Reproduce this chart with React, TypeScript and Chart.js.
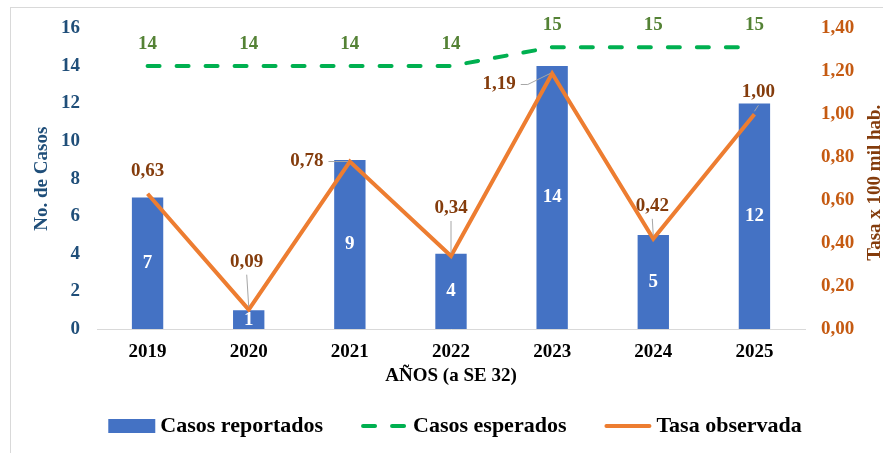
import React, { useEffect, useRef } from "react";
import { Chart, registerables } from "chart.js";

Chart.register(...registerables);

// ---- data ----
const years = ["2019", "2020", "2021", "2022", "2023", "2024", "2025"];
const casosReportados = [7, 1, 9, 4, 14, 5, 12];
const casosEsperados = [14, 14, 14, 14, 15, 15, 15];
const tasaObservada = [0.63, 0.09, 0.78, 0.34, 1.19, 0.42, 1.0];
const seriesNames = ["Casos reportados", "Casos esperados", "Tasa observada"];
const leftAxisTitle = "No. de Casos";
const rightAxisTitle = "Tasa x 100 mil hab.";
const xAxisTitle = "AÑOS (a SE 32)";
const leftMax = 16;
const leftStep = 2;
const rightMax = 1.4;
const rightStep = 0.2;

// ---- label placement (style only) ----
const tasaLabelOffsets: [number, number][] = [
  [0, -23],
  [-2, -48],
  [-43, 0],
  [0, -48],
  [-53, 11],
  [-1, -33],
  [4, -22],
];
const tasaLeader = [false, true, true, true, true, true, true];

const FONT = "'Liberation Serif', 'Times New Roman', serif";
const BLUE = "#4472C4";
const GREEN = "#00B050";
const ORANGE = "#ED7D31";
const GREEN_LABEL = "#548235";
const BROWN_LABEL = "#843C0C";
const RIGHT_TICK = "#C55A11";
const LEFT_TICK = "#1F4E79";

const fmtComma = (v: number) => v.toFixed(2).replace(".", ",");

const decorPlugin = {
  id: "decor",
  beforeDraw(chart: any) {
    const { ctx, width, height } = chart;
    ctx.save();
    ctx.fillStyle = "#ffffff";
    ctx.fillRect(0, 0, width, height);
    ctx.strokeStyle = "#D9D9D9";
    ctx.lineWidth = 1;
    ctx.strokeRect(10.5, 7.5, width + 20, height + 20);
    ctx.restore();
  },
  afterDatasetsDraw(chart: any) {
    const { ctx } = chart;
    ctx.save();
    ctx.font = `bold 19px ${FONT}`;
    ctx.textAlign = "center";
    ctx.textBaseline = "middle";

    // bar labels
    const barMeta = chart.getDatasetMeta(2);
    barMeta.data.forEach((el: any, i: number) => {
      ctx.fillStyle = "#ffffff";
      ctx.fillText(String(casosReportados[i]), el.x, (el.y + el.base) / 2);
    });

    // expected labels
    const expMeta = chart.getDatasetMeta(1);
    expMeta.data.forEach((el: any, i: number) => {
      ctx.fillStyle = GREEN_LABEL;
      ctx.fillText(String(casosEsperados[i]), el.x, el.y - 22);
    });

    // rate labels + leader lines
    const rateMeta = chart.getDatasetMeta(0);
    rateMeta.data.forEach((el: any, i: number) => {
      const [dx, dy] = tasaLabelOffsets[i];
      const cx = el.x + dx;
      const cy = el.y + dy;
      const txt = fmtComma(tasaObservada[i]);
      const hw = ctx.measureText(txt).width / 2;
      if (tasaLeader[i]) {
        ctx.strokeStyle = "#A6A6A6";
        ctx.lineWidth = 1;
        ctx.beginPath();
        if (Math.abs(dx) > Math.abs(dy)) {
          const s = dx < 0 ? 1 : -1;
          const sx = cx + s * (hw + 5);
          ctx.moveTo(sx, cy);
          ctx.lineTo(sx + s * 7, cy);
          ctx.lineTo(el.x - s * 2, el.y);
        } else {
          const s = dy < 0 ? 1 : -1;
          ctx.moveTo(cx, cy + s * 13);
          ctx.lineTo(el.x, el.y - s * 3);
        }
        ctx.stroke();
      }
      ctx.fillStyle = BROWN_LABEL;
      ctx.fillText(txt, cx, cy);
    });
    ctx.restore();
  },
  afterDraw(chart: any) {
    const { ctx, chartArea } = chart;
    ctx.save();
    // right axis title (reads bottom to top)
    ctx.font = `bold 19px ${FONT}`;
    ctx.fillStyle = BROWN_LABEL;
    ctx.textAlign = "center";
    ctx.textBaseline = "middle";
    ctx.translate(875, (chartArea.top + chartArea.bottom) / 2 + 4);
    ctx.rotate(-Math.PI / 2);
    ctx.fillText(rightAxisTitle, 0, 0);
    ctx.restore();

    // legend
    ctx.save();
    ctx.font = `bold 22px ${FONT}`;
    ctx.textBaseline = "middle";
    ctx.textAlign = "left";
    const swW = 47;
    const gapT = 5;
    const gapI = 38;
    const widths = seriesNames.map((n) => ctx.measureText(n).width);
    const total =
      widths.reduce((a, b) => a + b, 0) + seriesNames.length * (swW + gapT) + (seriesNames.length - 1) * gapI;
    let x = (chartArea.left + chartArea.right) / 2 + 4 - total / 2;
    const y = 426;
    seriesNames.forEach((name, i) => {
      if (i === 0) {
        ctx.fillStyle = BLUE;
        ctx.fillRect(x, y - 7, swW, 14);
      } else {
        ctx.beginPath();
        ctx.lineWidth = 4;
        ctx.lineCap = "round";
        ctx.strokeStyle = i === 1 ? GREEN : ORANGE;
        ctx.setLineDash(i === 1 ? [12, 17] : []);
        ctx.moveTo(x + 2, y);
        ctx.lineTo(x + swW - 2, y);
        ctx.stroke();
        ctx.setLineDash([]);
      }
      ctx.fillStyle = "#000000";
      ctx.fillText(name, x + swW + gapT, y);
      x += swW + gapT + widths[i] + gapI;
    });
    ctx.restore();
  },
};

export default function App() {
  const ref = useRef<HTMLCanvasElement | null>(null);
  useEffect(() => {
    if (!ref.current) return;
    const chart = new Chart(ref.current, {
      type: "bar",
      data: {
        labels: years,
        datasets: [
          {
            type: "line",
            label: seriesNames[2],
            data: tasaObservada,
            yAxisID: "y1",
            borderColor: ORANGE,
            backgroundColor: ORANGE,
            borderWidth: 4,
            pointRadius: 0,
            tension: 0,
            order: 1,
          } as any,
          {
            type: "line",
            label: seriesNames[1],
            data: casosEsperados,
            yAxisID: "y",
            borderColor: GREEN,
            backgroundColor: GREEN,
            borderWidth: 4,
            borderDash: [12, 17],
            borderCapStyle: "round",
            pointRadius: 0,
            tension: 0,
            order: 2,
          } as any,
          {
            type: "bar",
            label: seriesNames[0],
            data: casosReportados,
            yAxisID: "y",
            backgroundColor: BLUE,
            borderWidth: 0,
            categoryPercentage: 1,
            barPercentage: 0.31,
            order: 3,
          } as any,
        ],
      },
      options: {
        responsive: false,
        devicePixelRatio: 1,
        animation: false,
        layout: { padding: { left: 10, right: 28.75, top: 25, bottom: 66 } },
        plugins: {
          legend: { display: false },
          tooltip: { enabled: false },
        },
        scales: {
          x: {
            grid: { display: false, drawTicks: false },
            border: { display: true, color: "#D9D9D9", width: 1 },
            ticks: { color: "#000000", font: { family: FONT, size: 19, weight: "bold" }, padding: 12 },
            title: {
              display: true,
              text: xAxisTitle,
              color: "#000000",
              font: { family: FONT, size: 19, weight: "bold" },
              padding: { top: 2, bottom: 0 },
            },
            afterFit: (s: any) => {
              s.height = 58;
            },
          },
          y: {
            position: "left",
            min: 0,
            max: leftMax,
            grid: { display: false, drawTicks: false },
            border: { display: false },
            ticks: {
              stepSize: leftStep,
              color: LEFT_TICK,
              font: { family: FONT, size: 19, weight: "bold" },
              padding: 17,
            },
            title: {
              display: true,
              text: leftAxisTitle,
              color: LEFT_TICK,
              font: { family: FONT, size: 19, weight: "bold" },
              padding: { top: 20.6, bottom: 0 },
            },
            afterFit: (s: any) => {
              s.width = 87;
            },
          },
          y1: {
            position: "right",
            min: 0,
            max: rightMax,
            grid: { display: false, drawTicks: false },
            border: { display: false },
            ticks: {
              stepSize: rightStep,
              color: RIGHT_TICK,
              font: { family: FONT, size: 19, weight: "bold" },
              padding: 16,
              callback: (v: any) => fmtComma(Number(v)),
            },
            afterFit: (s: any) => {
              s.width = 49.25;
            },
          },
        },
      } as any,
      plugins: [decorPlugin],
    });
    return () => chart.destroy();
  }, []);
  return (
    <div style={{ position: "fixed", left: 0, top: 0, width: 883, height: 453, background: "#fff" }}>
      <canvas ref={ref} width={883} height={453} style={{ display: "block", width: 883, height: 453 }} />
    </div>
  );
}
